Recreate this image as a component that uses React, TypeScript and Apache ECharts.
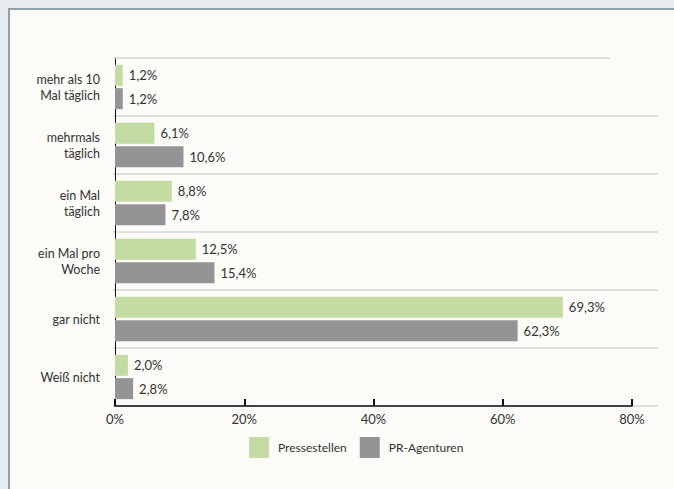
import React, { useEffect, useRef } from "react";
import * as echarts from "echarts";

const categories = [
  "mehr als 10\nMal täglich",
  "mehrmals\ntäglich",
  "ein Mal\ntäglich",
  "ein Mal pro\nWoche",
  "gar nicht",
  "Weiß nicht",
];
const pressestellen = [1.2, 6.1, 8.8, 12.5, 69.3, 2.0];
const agenturen = [1.2, 10.6, 7.8, 15.4, 62.3, 2.8];
const seriesNames = ["Pressestellen", "PR-Agenturen"];
const xTicks = [0, 20, 40, 60, 80];

const FONT = "Lato";
const TXT = "#333333";

export default function App() {
  const ref = useRef<HTMLDivElement>(null);
  useEffect(() => {
    if (!ref.current) return;
    const chart = echarts.init(ref.current, null, { renderer: "svg" });
    const fmt = (p: any) => String(p.value.toFixed(1)).replace(".", ",") + "%";
    chart.setOption({
      animation: false,
      backgroundColor: "#e5ebee",
      textStyle: { fontFamily: FONT },
      graphic: [
        {
          type: "rect",
          z: -10,
          silent: true,
          shape: { x: 9, y: 9, width: 720, height: 520 },
          style: { fill: "#fcfbf7", stroke: "#8da1ac", lineWidth: 2 },
        },
        {
          type: "line",
          z: 1,
          silent: true,
          shape: { x1: 113, y1: 58, x2: 610, y2: 58 },
          style: { stroke: "#d6d6d6", lineWidth: 1.5 },
        },
      ],
      legend: {
        left: 249,
        top: 437,
        padding: 0,
        itemWidth: 20,
        itemHeight: 21,
        itemGap: 13,
        icon: "rect",
        textStyle: { fontSize: 12, color: TXT, fontFamily: FONT, padding: [0, 0, 0, 4] },
        data: seriesNames,
      },
      grid: [
        { left: 115, top: 58, width: 517, height: 348 },
        { left: 113, top: 58, width: 545, height: 348 },
      ],
      xAxis: [
        {
          type: "value",
          gridIndex: 0,
          min: 0,
          max: 80,
          interval: 20,
          splitLine: { show: false },
          axisLine: { show: true, lineStyle: { color: "#111", width: 1.5 } },
          axisTick: { show: true, inside: true, length: 7, lineStyle: { color: "#111", width: 2 } },
          axisLabel: {
            fontSize: 13,
            color: TXT,
            fontFamily: FONT,
            margin: 6,
            formatter: (v: number) => (xTicks.includes(v) ? v + "%" : ""),
          },
        },
        {
          type: "value",
          gridIndex: 1,
          min: 0,
          max: 80,
          show: false,
          splitLine: { show: false },
        },
      ],
      yAxis: [
        {
          type: "category",
          gridIndex: 0,
          data: categories,
          inverse: true,
          offset: 2,
          axisLine: { show: true, lineStyle: { color: "#111", width: 1 } },
          axisTick: { show: false },
          splitLine: { show: false },
          axisLabel: {
            fontSize: 12.5,
            color: TXT,
            fontFamily: FONT,
            margin: 13,
            lineHeight: 16,
            align: "right",
          },
        },
        {
          type: "category",
          gridIndex: 1,
          data: categories,
          inverse: true,
          axisLine: { show: false },
          axisTick: { show: false },
          axisLabel: { show: false },
          splitLine: {
            show: true,
            interval: (idx: number) => idx !== 0,
            lineStyle: { color: "#d6d6d6", width: 1.5 },
          },
        },
      ],
      series: [
        {
          name: seriesNames[0],
          type: "bar",
          xAxisIndex: 0,
          yAxisIndex: 0,
          data: pressestellen,
          barWidth: 21,
          barGap: "11%",
          itemStyle: { color: "#c4dca4" },
          label: {
            show: true,
            position: "right",
            distance: 6,
            fontSize: 13,
            color: TXT,
            fontFamily: FONT,
            formatter: fmt,
          },
        },
        {
          name: seriesNames[1],
          type: "bar",
          xAxisIndex: 0,
          yAxisIndex: 0,
          data: agenturen,
          barWidth: 21,
          barGap: "11%",
          itemStyle: { color: "#949496" },
          label: {
            show: true,
            position: "right",
            distance: 6,
            fontSize: 13,
            color: TXT,
            fontFamily: FONT,
            formatter: fmt,
          },
        },
      ],
    });
    return () => chart.dispose();
  }, []);
  return (
    <div
      ref={ref}
      style={{ position: "absolute", left: 0, top: 0, width: 674, height: 489 }}
    />
  );
}
